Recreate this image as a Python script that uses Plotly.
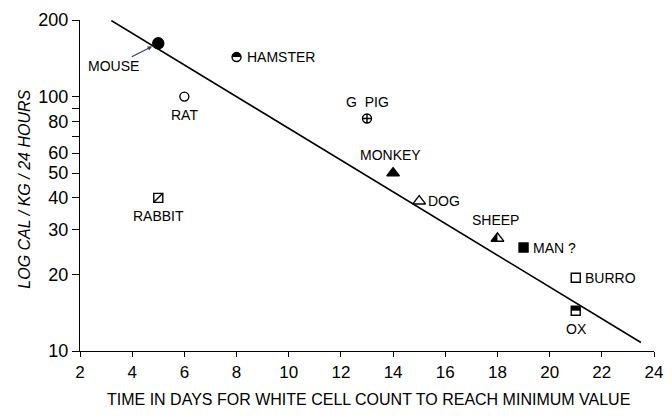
import math
import plotly.graph_objects as go

# ---- data ----
species = ["MOUSE", "HAMSTER", "RAT", "RABBIT", "G  PIG", "MONKEY", "DOG", "SHEEP", "MAN ?", "BURRO", "OX"]
days = [5, 8, 6, 5, 13, 14, 15, 18, 19, 21, 21]
cal = [162, 143, 100, 40, 82, 50, 38.8, 27.7, 25.5, 19.4, 14.4]

fit_days = [3.2, 23.5]
fit_cal = [199, 10.8]

x_ticks = [2, 4, 6, 8, 10, 12, 14, 16, 18, 20, 22, 24]
y_ticks = [10, 20, 30, 40, 50, 60, 70, 80, 90, 100, 200]
y_ticktext = ["10", "20", "30", "40", "50", "60", "", "80", "", "100", "200"]

x_title = "TIME IN DAYS FOR WHITE CELL COUNT TO REACH MINIMUM VALUE"
y_title = "LOG CAL / KG / 24 HOURS"

# ---- styles ----
FONT = "Liberation Sans, Arial, sans-serif"
K = 0.5523
R = 4.5
HALF_CIRCLE_TOP = (f"M {-R},0 C {-R},{K*R} {-K*R},{R} 0,{R} "
                   f"C {K*R},{R} {R},{K*R} {R},0 Z")
TR, TRT = 5.5, 5.5 * 2 / math.sqrt(3)
HALF_TRI_LEFT = f"M 0,{TR} L {-TRT},{-TR/2} L 0,{-TR/2} Z"
HALF_SQ_TOP = f"M {-R},0 L {R},0 L {R},{R} L {-R},{R} Z"

sym = {
    "MOUSE": ("circle", 11, "black", None),
    "HAMSTER": ("circle-open", 9, "black", HALF_CIRCLE_TOP),
    "RAT": ("circle-open", 9, "black", None),
    "RABBIT": ("square-open", 9, "black", None),
    "G  PIG": ("circle-cross-open", 9, "black", None),
    "MONKEY": ("triangle-up", 11, "black", None),
    "DOG": ("triangle-up-open", 11, "black", None),
    "SHEEP": ("triangle-up-open", 11, "black", HALF_TRI_LEFT),
    "MAN ?": ("square", 9, "black", None),
    "BURRO": ("square-open", 9, "black", None),
    "OX": ("square-open", 9, "black", HALF_SQ_TOP),
}
# label placement: (xanchor, yanchor, xshift, yshift)
lab = {
    "HAMSTER": ("left", "middle", 8, 0),
    "RAT": ("center", "top", 0, -8),
    "RABBIT": ("center", "top", 0, -8),
    "G  PIG": ("center", "bottom", 0, 7),
    "MONKEY": ("center", "bottom", -3, 8),
    "DOG": ("left", "middle", 7, 0),
    "SHEEP": ("center", "bottom", -2, 8),
    "MAN ?": ("left", "middle", 7, 0),
    "BURRO": ("left", "middle", 7, 0),
    "OX": ("center", "top", 1, -8),
}

fig = go.Figure()

fig.add_trace(go.Scatter(x=fit_days, y=fit_cal, mode="lines",
                         line=dict(color="black", width=1.6), hoverinfo="skip", showlegend=False))

for name, xd, yd in zip(species, days, cal):
    s = sym[name]
    fig.add_trace(go.Scatter(x=[xd], y=[yd], mode="markers",
                             marker=dict(symbol=s[0], size=s[1], color=s[2],
                                         line=dict(color="black", width=1.4)),
                             showlegend=False))
    if name == "RABBIT":
        fig.add_trace(go.Scatter(x=[xd], y=[yd], mode="markers",
                                 marker=dict(symbol="line-ne", size=9,
                                             line=dict(color="black", width=1.4)),
                                 showlegend=False))
    if s[3] is not None:
        fig.add_shape(type="path", path=s[3], xref="x", yref="y",
                      xsizemode="pixel", ysizemode="pixel",
                      xanchor=xd, yanchor=yd,
                      fillcolor="black", line=dict(width=0))

for name, xd, yd in zip(species, days, cal):
    if name == "MOUSE":
        fig.add_annotation(x=xd, y=math.log10(yd), text=name, showarrow=True, arrowhead=2,
                           arrowsize=0.8, arrowwidth=1.1, standoff=7,
                           ax=-45, ay=23, font=dict(family=FONT, size=14, color="black"))
        continue
    xa, ya, xs, ys = lab[name]
    fig.add_annotation(x=xd, y=math.log10(yd), text=name, showarrow=False,
                       xanchor=xa, yanchor=ya, xshift=xs, yshift=ys,
                       font=dict(family=FONT, size=14, color="black"))

# axis titles
fig.add_annotation(text=x_title, xref="paper", yref="paper", x=0.502, y=-0.148,
                   xanchor="center", yanchor="middle", showarrow=False,
                   font=dict(family=FONT, size=16, color="black"))
fig.add_annotation(text="<i>" + y_title + "</i>", xref="paper", yref="paper",
                   x=-0.096, y=0.49, textangle=-90,
                   xanchor="center", yanchor="middle", showarrow=False,
                   font=dict(family=FONT, size=16, color="black"))

# page body has an 8px default margin, so the figure is sized/offset to compensate
fig.update_layout(
    width=664, height=409,
    margin=dict(l=72, r=18, t=12, b=66, autoexpand=False),
    paper_bgcolor="white", plot_bgcolor="white",
    font=dict(family=FONT, color="black"),
    xaxis=dict(range=[2, 24], tickvals=x_ticks, showgrid=False, zeroline=False,
               showline=True, linecolor="black", linewidth=1.3, automargin=False,
               ticks="outside", ticklen=5, tickcolor="black",
               ticklabeloverflow="allow", tickfont=dict(size=17)),
    yaxis=dict(type="log", range=[1, 2.30103], tickvals=y_ticks, ticktext=y_ticktext,
               showgrid=False, zeroline=False, automargin=False,
               showline=True, linecolor="black", linewidth=1.3,
               ticks="outside", ticklen=7, tickcolor="black",
               ticklabeloverflow="allow", tickfont=dict(size=18)),
)

fig.write_html("out.html")
